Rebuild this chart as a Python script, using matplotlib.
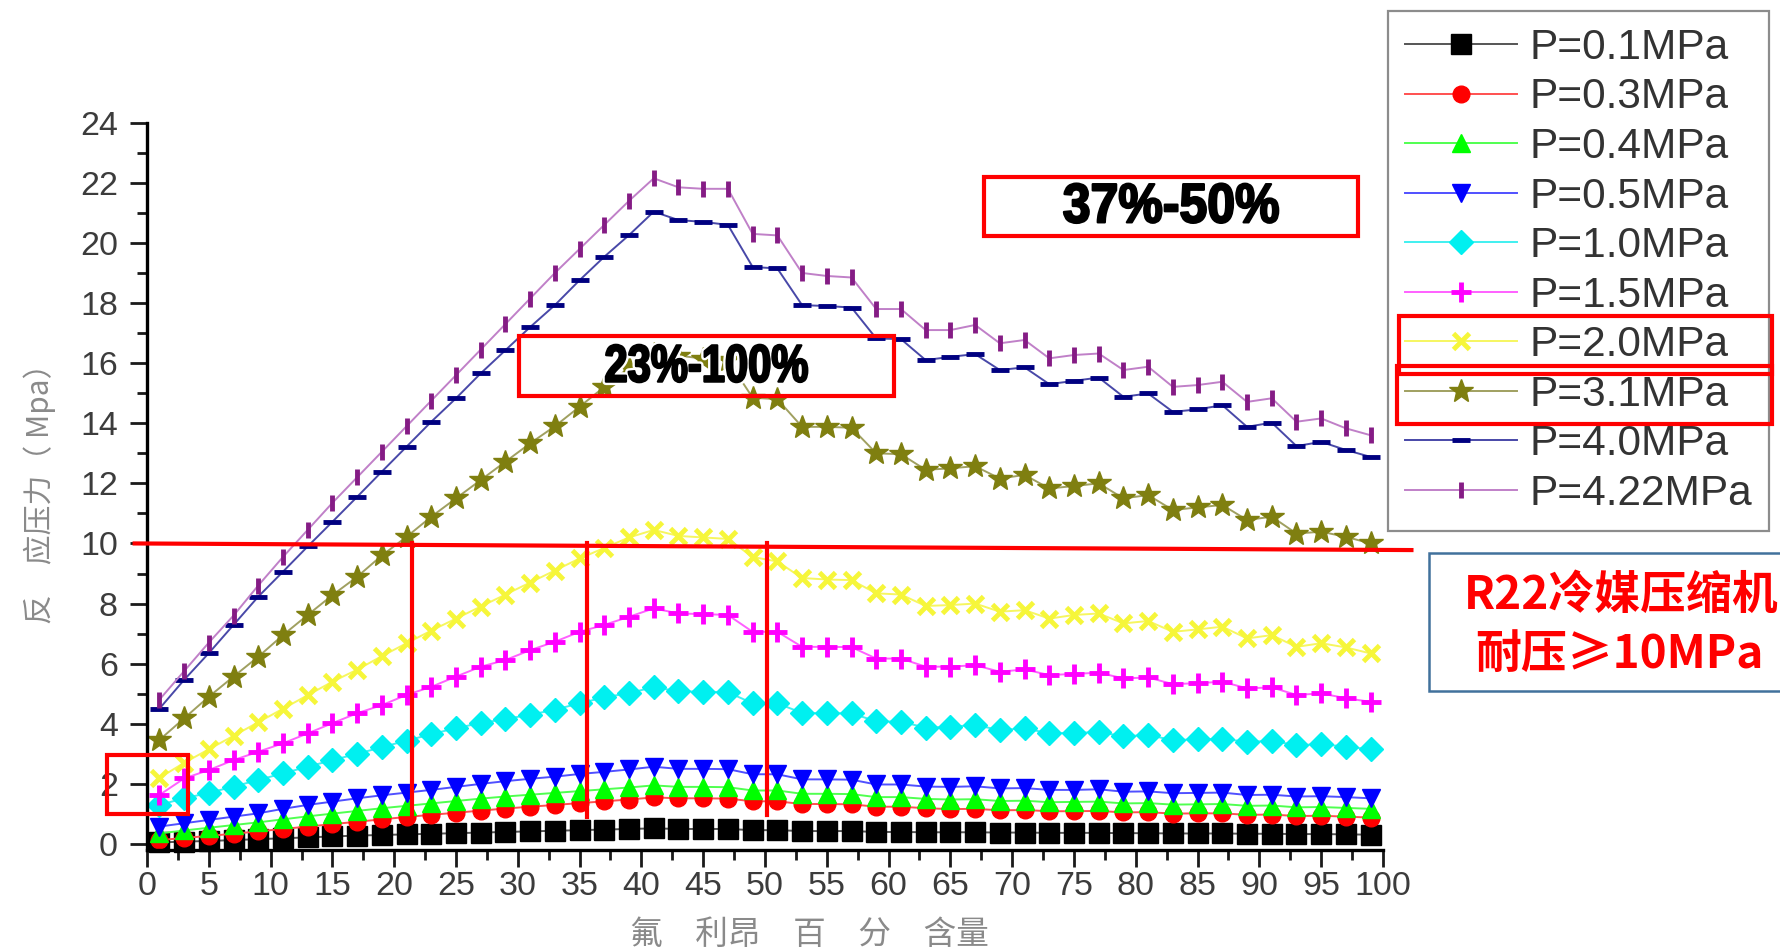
import matplotlib
matplotlib.use("Agg")
import matplotlib.pyplot as plt
import matplotlib.patheffects as pe
from matplotlib.patches import Rectangle
from matplotlib.ticker import MultipleLocator
from matplotlib.transforms import Affine2D

plt.rcParams["font.family"] = ["Liberation Sans", "Noto Sans CJK SC", "DejaVu Sans"]

# refrigerant content (%) at which each curve was sampled
content = [1, 3, 5, 7, 9, 11, 13, 15, 17, 19, 21, 23, 25, 27, 29, 31, 33, 35, 37, 39,
           41, 43, 45, 47, 49, 51, 53, 55, 57, 59, 61, 63, 65, 67, 69, 71, 73, 75, 77, 79,
           81, 83, 85, 87, 89, 91, 93, 95, 97, 99]

p_01 = [0.05, 0.08, 0.10, 0.13, 0.16, 0.19, 0.22, 0.25, 0.28, 0.30, 0.32, 0.34, 0.36, 0.38, 0.40,
        0.42, 0.44, 0.46, 0.48, 0.50, 0.52, 0.50, 0.50, 0.50, 0.46, 0.46, 0.43, 0.43, 0.43, 0.40,
        0.40, 0.39, 0.39, 0.39, 0.38, 0.38, 0.37, 0.37, 0.37, 0.36, 0.36, 0.35, 0.35, 0.35, 0.34,
        0.34, 0.33, 0.33, 0.32, 0.31]
p_03 = [0.13, 0.20, 0.27, 0.34, 0.42, 0.50, 0.58, 0.66, 0.74, 0.82, 0.90, 0.97, 1.04, 1.11, 1.18,
        1.24, 1.30, 1.36, 1.42, 1.48, 1.55, 1.52, 1.52, 1.51, 1.42, 1.42, 1.33, 1.33, 1.32, 1.24,
        1.24, 1.19, 1.16, 1.17, 1.12, 1.13, 1.09, 1.09, 1.10, 1.05, 1.06, 1.01, 1.02, 1.02, 0.97,
        0.98, 0.93, 0.94, 0.91, 0.88]
p_04 = [0.35, 0.45, 0.54, 0.63, 0.72, 0.82, 0.92, 1.01, 1.10, 1.19, 1.27, 1.35, 1.43, 1.51, 1.58,
        1.64, 1.70, 1.76, 1.82, 1.88, 1.95, 1.90, 1.90, 1.89, 1.78, 1.78, 1.67, 1.67, 1.66, 1.56,
        1.56, 1.50, 1.48, 1.49, 1.43, 1.44, 1.39, 1.40, 1.41, 1.35, 1.36, 1.31, 1.32, 1.33, 1.27,
        1.28, 1.22, 1.23, 1.20, 1.17]
p_05 = [0.58, 0.69, 0.80, 0.91, 1.02, 1.17, 1.30, 1.41, 1.52, 1.62, 1.71, 1.80, 1.90, 2.00, 2.09,
        2.17, 2.24, 2.33, 2.40, 2.48, 2.57, 2.50, 2.50, 2.49, 2.32, 2.32, 2.15, 2.15, 2.14, 1.98,
        1.98, 1.91, 1.90, 1.92, 1.85, 1.86, 1.80, 1.80, 1.82, 1.74, 1.75, 1.69, 1.70, 1.71, 1.63,
        1.64, 1.58, 1.59, 1.56, 1.52]
p_10 = [1.30, 1.52, 1.70, 1.91, 2.13, 2.35, 2.57, 2.79, 3.00, 3.22, 3.44, 3.65, 3.86, 4.02, 4.16,
        4.30, 4.47, 4.68, 4.88, 5.02, 5.22, 5.08, 5.07, 5.05, 4.68, 4.68, 4.36, 4.35, 4.35, 4.08,
        4.07, 3.87, 3.90, 3.96, 3.79, 3.85, 3.68, 3.70, 3.72, 3.59, 3.62, 3.46, 3.48, 3.50, 3.40,
        3.43, 3.29, 3.32, 3.24, 3.15]
p_15 = [1.63, 2.18, 2.46, 2.79, 3.07, 3.35, 3.68, 4.02, 4.35, 4.62, 4.96, 5.23, 5.57, 5.90, 6.12,
        6.45, 6.73, 7.06, 7.29, 7.56, 7.84, 7.67, 7.65, 7.62, 7.06, 7.06, 6.56, 6.56, 6.55, 6.17,
        6.17, 5.90, 5.90, 5.95, 5.73, 5.81, 5.62, 5.66, 5.70, 5.51, 5.54, 5.32, 5.35, 5.40, 5.18,
        5.21, 4.96, 5.01, 4.85, 4.73]
p_20 = [2.20, 2.70, 3.15, 3.60, 4.05, 4.50, 4.95, 5.40, 5.80, 6.25, 6.68, 7.10, 7.50, 7.90, 8.30,
        8.70, 9.10, 9.50, 9.85, 10.20, 10.45, 10.25, 10.20, 10.15, 9.55, 9.40, 8.85, 8.80, 8.78, 8.34,
        8.30, 7.92, 7.95, 8.00, 7.73, 7.78, 7.50, 7.62, 7.67, 7.34, 7.42, 7.06, 7.14, 7.23, 6.84,
        6.95, 6.56, 6.68, 6.54, 6.34]
p_31 = [3.46, 4.18, 4.90, 5.57, 6.23, 6.95, 7.62, 8.28, 8.89, 9.60, 10.22, 10.89, 11.50, 12.11, 12.72,
        13.33, 13.90, 14.55, 15.21, 15.85, 16.30, 16.25, 16.15, 16.10, 14.85, 14.80, 13.88, 13.88, 13.85, 13.00,
        12.97, 12.45, 12.50, 12.57, 12.16, 12.28, 11.83, 11.91, 12.00, 11.50, 11.61, 11.11, 11.20, 11.28, 10.78,
        10.89, 10.33, 10.39, 10.22, 10.00]
p_40 = [4.50, 5.46, 6.35, 7.29, 8.23, 9.06, 9.90, 10.72, 11.55, 12.39, 13.22, 14.05, 14.83, 15.66, 16.43,
        17.20, 17.93, 18.76, 19.54, 20.26, 21.04, 20.76, 20.70, 20.60, 19.20, 19.15, 17.93, 17.90, 17.85, 16.82,
        16.80, 16.10, 16.21, 16.30, 15.77, 15.86, 15.30, 15.41, 15.52, 14.88, 14.99, 14.38, 14.46, 14.60, 13.88,
        14.02, 13.24, 13.38, 13.11, 12.88]
p_422 = [4.80, 5.75, 6.70, 7.60, 8.60, 9.55, 10.45, 11.35, 12.20, 13.05, 13.90, 14.75, 15.60, 16.45, 17.30,
         18.15, 19.00, 19.80, 20.60, 21.40, 22.15, 21.85, 21.80, 21.80, 20.30, 20.25, 19.00, 18.90, 18.85, 17.80,
         17.80, 17.10, 17.10, 17.27, 16.66, 16.77, 16.16, 16.27, 16.32, 15.77, 15.88, 15.21, 15.27, 15.38, 14.71,
         14.83, 14.05, 14.16, 13.83, 13.60]

labels = ["P=0.1MPa", "P=0.3MPa", "P=0.4MPa", "P=0.5MPa", "P=1.0MPa",
          "P=1.5MPa", "P=2.0MPa", "P=3.1MPa", "P=4.0MPa", "P=4.22MPa"]
series = [p_01, p_03, p_04, p_05, p_10, p_15, p_20, p_31, p_40, p_422]

# marker, marker colour, line colour, marker size, marker edge width
styles = [
    ("s", "#000000", "#555555", 14, 1.0),
    ("o", "#ff0000", "#ff5050", 12, 1.0),
    ("^", "#00ff00", "#50ff50", 13, 1.0),
    ("v", "#0000ff", "#5050ff", 13, 1.0),
    ("D", "#00f0f0", "#40f0f0", 12, 1.0),
    ("+", "#ff00ff", "#ff60ff", 15, 3.5),
    ("x", "#f6f63a", "#f6f660", 11, 3.5),
    ("*", "#7f7f10", "#a0a060", 18, 1.0),
    ("_", "#000080", "#4848a8", 13, 3.5),
    ("|", "#851c85", "#c080c8", 12, 3.5),
]

# 10 MPa withstand level and the composition marks drawn on it
limit_x = [-1.0, 102.3]
limit_y = [10.0, 9.78]
split_x = [21.4, 35.6, 50.2]
split_bottom = [0.95, 0.9, 0.95]


class Squeezed(pe.AbstractPathEffect):
    """Draw text narrowed about its centre, with a white halo and a heavy outline."""

    def __init__(self, sx, halo=5, outline=1.6):
        super().__init__()
        self.sx = sx
        self.halo = halo
        self.outline = outline

    def draw_path(self, renderer, gc, tpath, affine, rgbFace=None):
        ext = tpath.get_extents()
        cx = (ext.x0 + ext.x1) / 2
        aff = Affine2D().translate(-cx, 0).scale(self.sx, 1).translate(cx, 0) + affine
        g = renderer.new_gc()
        g.copy_properties(gc)
        g.set_linewidth(self.halo)
        g.set_foreground("white")
        g.set_joinstyle("round")
        renderer.draw_path(g, tpath, aff, None)
        g.set_linewidth(self.outline)
        g.set_foreground(rgbFace)
        renderer.draw_path(g, tpath, aff, rgbFace)
        g.restore()


W, H = 1781, 948
fig = plt.figure(figsize=(W / 100, H / 100), dpi=100)
ax = fig.add_axes([147 / W, 98 / H, (1383 - 147) / W, (850 - 122.7) / H])

for y, lab, (m, mc, lc, ms, mew) in zip(series, labels, styles):
    ax.plot(content, y, color=lc, lw=1.4, marker=m, ms=ms, mfc=mc, mec=mc,
            mew=mew, label=lab, clip_on=False)

ax.set_xlim(0, 100)
ax.set_ylim(-0.2, 24)
ax.xaxis.set_major_locator(MultipleLocator(5))
ax.xaxis.set_minor_locator(MultipleLocator(2.5))
ax.yaxis.set_major_locator(MultipleLocator(2))
ax.yaxis.set_minor_locator(MultipleLocator(1))
for side in ("top", "right"):
    ax.spines[side].set_visible(False)
for side in ("left", "bottom"):
    ax.spines[side].set_linewidth(2.4)
ax.tick_params(which="major", length=12, width=2, colors="#1a1a1a",
               labelcolor="#3c3c3c", labelsize=24.5)
ax.tick_params(which="minor", length=7, width=2, colors="#1a1a1a")
ax.tick_params(axis="y", which="major", pad=9)
ax.tick_params(axis="x", which="major", pad=3)

fig.text(40 / W, 1 - 486 / H, "反　应压力（ Mpa）", rotation=90, ha="center", va="center",
         fontsize=21.5, color="#8a8a8a", family=["Noto Sans CJK SC", "DejaVu Sans"])
fig.text(809 / W, 1 - 935 / H, "氟　利昂　百　分　含量", ha="center", va="center",
         fontsize=23.5, color="#8a8a8a", family=["Noto Sans CJK SC", "DejaVu Sans"])

leg = ax.legend(loc="upper left", bbox_to_anchor=(1388 / W, 1 - 11 / H),
                bbox_transform=fig.transFigure, borderaxespad=0, fontsize=30.5,
                handlelength=2.65, handletextpad=0.3, borderpad=0.4,
                labelspacing=0.225, fancybox=False, framealpha=1)
leg.get_frame().set_edgecolor("#8c8c8c")
leg.get_frame().set_linewidth(1.6)
for t in leg.get_texts():
    t.set_color("#333333")

# red highlights
red = "#ff0000"
ax.plot(limit_x, limit_y, color=red, lw=3, clip_on=False, zorder=5)
for xv, yb in zip(split_x, split_bottom):
    ax.plot([xv, xv], [yb, 10.0], color=red, lw=3, clip_on=False, zorder=5)
ax.add_patch(Rectangle((-3.2, 1.0), 6.55, 1.96, fill=False, ec=red, lw=3,
                       clip_on=False, zorder=5))
ax.add_patch(Rectangle((30.1, 14.9), 30.3, 2.0, fill=False, ec=red, lw=3,
                       clip_on=False, zorder=5))
ax.add_patch(Rectangle((67.7, 20.23), 30.3, 1.96, fill=False, ec=red, lw=3,
                       clip_on=False, zorder=5))

ax.text(45.25, 15.85, "23%-100%", ha="center", va="center", fontsize=38,
        fontweight="bold", color="black", path_effects=[Squeezed(0.79)], zorder=6)
ax.text(82.85, 21.15, "37%-50%", ha="center", va="center", fontsize=40,
        fontweight="bold", color="black", path_effects=[Squeezed(0.9)], zorder=6)

# box with the compressor requirement
fig.patches.append(Rectangle((1429 / W, 1 - 690.6 / H), 400 / W, 137.6 / H,
                             transform=fig.transFigure, fill=True, fc="white",
                             ec="#41719c", lw=1.8))
cjk_bold = ["Noto Sans CJK SC", "DejaVu Sans"]
fig.text(1621 / W, 1 - 596 / H, "R22冷媒压缩机", ha="center", va="center", fontsize=33,
         fontweight="bold", color=red, family=cjk_bold)
fig.text(1619 / W, 1 - 655 / H, "耐压≥10MPa", ha="center", va="center", fontsize=33,
         fontweight="bold", color=red, family=cjk_bold)

# frames around the 2.0 and 3.1 MPa legend rows
fig.canvas.draw()
texts = leg.get_texts()
for idx, (x0, x1) in zip((6, 7), ((1399, 1772), (1397, 1772))):
    bb = texts[idx].get_window_extent()
    cy = (bb.y0 + bb.y1) / 2
    fig.patches.append(Rectangle((x0 / W, (cy - 29) / H), (x1 - x0) / W, 58 / H,
                                 transform=fig.transFigure, fill=False, ec=red, lw=3))

fig.savefig("out.png", dpi=100)
